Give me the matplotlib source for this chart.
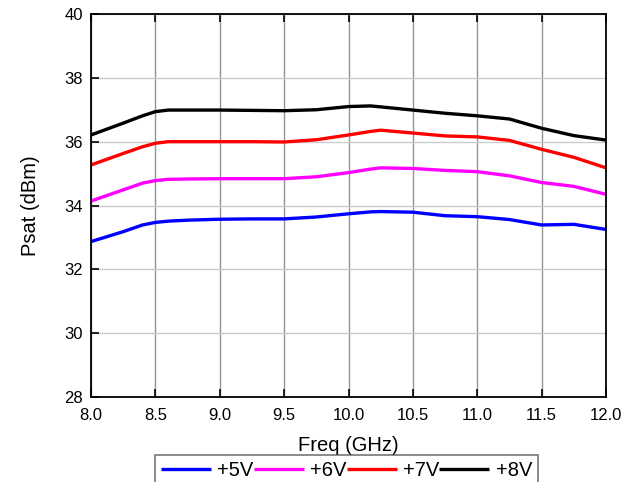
import numpy as np
import matplotlib
matplotlib.use("Agg")
import matplotlib.pyplot as plt

plt.rcParams['font.family'] = ['Liberation Sans', 'DejaVu Sans']

# frequency points (GHz)
freq = [8.0, 8.25, 8.4, 8.5, 8.6, 8.75, 9.0, 9.25, 9.5, 9.75, 10.0, 10.17, 10.25, 10.5,
        10.75, 11.0, 11.25, 11.5, 11.75, 12.0]

# Psat (dBm) for each supply voltage
psat_5v = [32.87, 33.18, 33.39, 33.47, 33.51, 33.54, 33.57, 33.58, 33.58, 33.64, 33.74, 33.80,
           33.81, 33.79, 33.68, 33.65, 33.56, 33.39, 33.41, 33.25]
psat_6v = [34.14, 34.49, 34.70, 34.78, 34.82, 34.83, 34.84, 34.84, 34.84, 34.90, 35.03, 35.14,
           35.18, 35.16, 35.10, 35.06, 34.93, 34.72, 34.60, 34.35]
psat_7v = [35.27, 35.63, 35.84, 35.95, 36.00, 36.00, 36.00, 36.00, 35.99, 36.06, 36.21, 36.32,
           36.36, 36.27, 36.18, 36.15, 36.04, 35.76, 35.51, 35.18]
psat_8v = [36.21, 36.58, 36.81, 36.94, 36.99, 36.99, 36.99, 36.98, 36.97, 37.00, 37.10, 37.12,
           37.09, 36.99, 36.89, 36.81, 36.71, 36.42, 36.19, 36.05]

labels = ['+5V', '+6V', '+7V', '+8V']
colors = ['#0000ff', '#ff00ff', '#ff0000', '#000000']

fig = plt.figure(figsize=(6.38, 4.82), dpi=100)
ax = fig.add_axes([91 / 638, 1 - 397 / 482, (606 - 91) / 638, (397 - 14) / 482])

for y, lab, c in zip([psat_5v, psat_6v, psat_7v, psat_8v], labels, colors):
    ax.plot(freq, y, color=c, lw=2.4, label=lab, solid_capstyle='butt',
            solid_joinstyle='round')

ax.set_xlim(8, 12)
ax.set_ylim(28, 40)
ax.set_xticks(np.arange(8, 12.01, 0.5))
ax.set_xticklabels([f"{v:.1f}" for v in np.arange(8, 12.01, 0.5)])
ax.set_yticks(range(28, 41, 2))

# grid: vertical darker, horizontal lighter
ax.xaxis.grid(True, color='#959595', lw=1.0)
ax.yaxis.grid(True, color='#cccccc', lw=1.0)
ax.set_axisbelow(True)

ax.tick_params(direction='in', length=6, width=1.2, labelsize=12, top=True, right=False,
               pad=6)
ax.tick_params(axis='x', pad=8)
for s in ax.spines.values():
    s.set_linewidth(1.3)

ax.set_xlabel('Freq (GHz)', fontsize=14.5, labelpad=9)
ax.set_ylabel('Psat (dBm)', fontsize=14.5, labelpad=17)

leg = fig.legend(loc='upper center', bbox_to_anchor=(346.5 / 638, 1 - 455 / 482),
                 ncol=4, fontsize=14.5, frameon=True, fancybox=False, edgecolor='#555555',
                 handlelength=2.5, handletextpad=0.3, columnspacing=0.0,
                 borderpad=0.3, borderaxespad=0)
leg.get_frame().set_linewidth(1.2)

fig.savefig('out.png', dpi=100)
